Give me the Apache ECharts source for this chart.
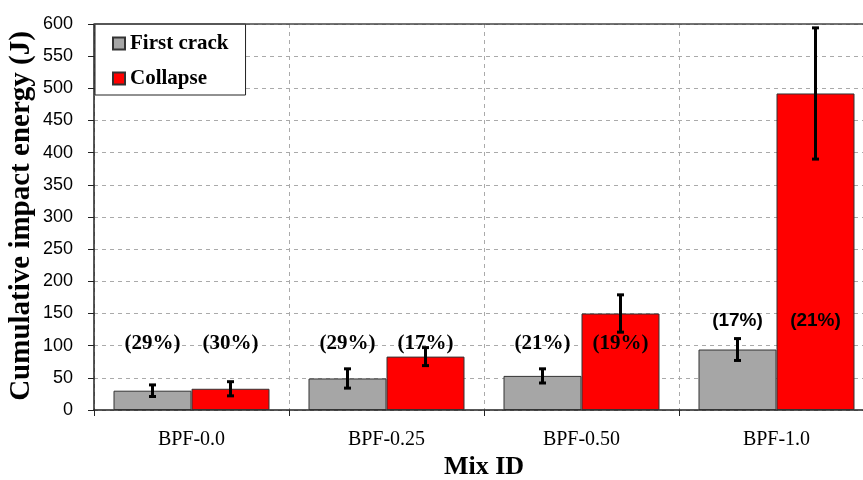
<!DOCTYPE html>
<html><head><meta charset="utf-8">
<script src="https://cdn.jsdelivr.net/npm/echarts@6/dist/echarts.min.js"></script>
<style>html,body{margin:0;padding:0;background:#fff}#c{width:863px;height:480px}</style>
</head><body><div id="c"></div>
<script>
const categories = ['BPF-0.0', 'BPF-0.25', 'BPF-0.50', 'BPF-1.0'];
const firstCrack = [30, 49, 53, 94];
const collapse = [33, 83, 150, 492];
const firstCrackErr = [9, 15, 11, 17];
const collapseErr = [11, 14, 29, 102];
const firstCrackPct = ['(29%)', '(29%)', '(21%)', '(17%)'];
const collapsePct = ['(30%)', '(17%)', '(19%)', '(21%)'];
const firstCrackPctY = [104, 104, 104, 139];
const collapsePctY = [104, 104, 104, 139];
const yTicks = [0, 50, 100, 150, 200, 250, 300, 350, 400, 450, 500, 550, 600];
const xTitle = 'Mix ID';
const yTitle = 'Cumulative impact energy (J)';

const serif = '"Liberation Serif","Times New Roman",serif';
const sans = '"Liberation Sans",Arial,sans-serif';

function errData(vals, errs, side) {
  return vals.map((v, i) => [i, v - errs[i], v + errs[i], side]);
}
function lblData(ys, txt, side) {
  return ys.map((y, i) => [i, y, txt[i], side]);
}

const chart = echarts.init(document.getElementById('c'), null, {renderer: 'canvas'});
chart.setOption({
  animation: false,
  backgroundColor: '#fff',
  grid: {left: 94, top: 24, width: 780, height: 386, show: false, containLabel: false, outerBoundsMode: 'none'},
  legend: {
    left: 95, top: 24,
    orient: 'vertical', itemGap: 14, padding: [9, 17, 6, 17],
    borderColor: '#222', borderWidth: 1, backgroundColor: '#fff',
    itemWidth: 12, itemHeight: 12, icon: 'rect',
    textStyle: {fontFamily: serif, fontWeight: 'bold', fontSize: 21, color: '#000'},
    data: ['First crack', 'Collapse']
  },
  xAxis: {
    type: 'category', data: categories, boundaryGap: true,
    axisLine: {show: true, lineStyle: {color: '#222', width: 1.5}},
    axisTick: {show: true, length: 6, lineStyle: {color: '#222'}},
    axisLabel: {fontFamily: serif, fontSize: 20, color: '#000', margin: 20},
    splitLine: {show: true, interval: 0, lineStyle: {color: '#aaa', type: [4, 4]}}
  },
  yAxis: {
    type: 'value', min: 0, max: 600, interval: 50,
    axisLine: {show: true, lineStyle: {color: '#222', width: 1.5}},
    axisTick: {show: true, length: 6, inside: false, lineStyle: {color: '#222'}},
    axisLabel: {fontFamily: sans, fontSize: 18, color: '#000', margin: 21,
      formatter: v => yTicks.includes(v) ? String(v) : ''},
    splitLine: {show: true, lineStyle: {color: '#aaa', type: [4, 4]}}
  },
  graphic: [
    {type: 'line', shape: {x1: 94, y1: 24, x2: 874, y2: 24},
      style: {stroke: '#444', lineWidth: 1.5}, z: 5},
    {type: 'text', x: 22, y: 216, rotation: Math.PI / 2,
      style: {text: yTitle, font: 'bold 29px ' + serif, fill: '#000', align: 'center', verticalAlign: 'middle'}},
    {type: 'text', x: 484, y: 467,
      style: {text: xTitle, font: 'bold 26px ' + serif, fill: '#000', align: 'center', verticalAlign: 'middle'}}
  ],
  series: [
    {name: 'First crack', type: 'bar', data: firstCrack, barGap: '0%', barCategoryGap: '20%',
      itemStyle: {color: '#a6a6a6', borderColor: '#333', borderWidth: 1}},
    {name: 'Collapse', type: 'bar', data: collapse, barGap: '0%', barCategoryGap: '20%',
      itemStyle: {color: '#ff0000', borderColor: '#333', borderWidth: 1}},
    {type: 'custom', name: 'err', silent: true, z: 10,
      data: errData(firstCrack, firstCrackErr, -1).concat(errData(collapse, collapseErr, 1)),
      renderItem: function (params, api) {
        const band = api.size([1, 0])[0];
        const off = api.value(3) * band * 0.2;
        const lo = api.coord([api.value(0), api.value(1)]);
        const hi = api.coord([api.value(0), api.value(2)]);
        const x = lo[0] + off;
        const st = {stroke: '#000', lineWidth: 3};
        return {type: 'group', children: [
          {type: 'line', shape: {x1: x, y1: lo[1], x2: x, y2: hi[1]}, style: st},
          {type: 'line', shape: {x1: x - 3.5, y1: lo[1], x2: x + 3.5, y2: lo[1]}, style: st},
          {type: 'line', shape: {x1: x - 3.5, y1: hi[1], x2: x + 3.5, y2: hi[1]}, style: st}
        ]};
      }},
    {type: 'custom', name: 'pct', silent: true, z: 11,
      data: lblData(firstCrackPctY, firstCrackPct, -1).concat(lblData(collapsePctY, collapsePct, 1)),
      renderItem: function (params, api) {
        const band = api.size([1, 0])[0];
        const off = api.value(3) * band * 0.2;
        const p = api.coord([api.value(0), api.value(1)]);
        const last = api.value(0) === 3;
        return {type: 'text', x: p[0] + off, y: p[1],
          style: {text: api.value(2), fill: '#000', align: 'center', verticalAlign: 'middle',
            font: last ? 'bold 19px ' + sans : 'bold 21px ' + serif}};
      }}
  ]
});
</script></body></html>
